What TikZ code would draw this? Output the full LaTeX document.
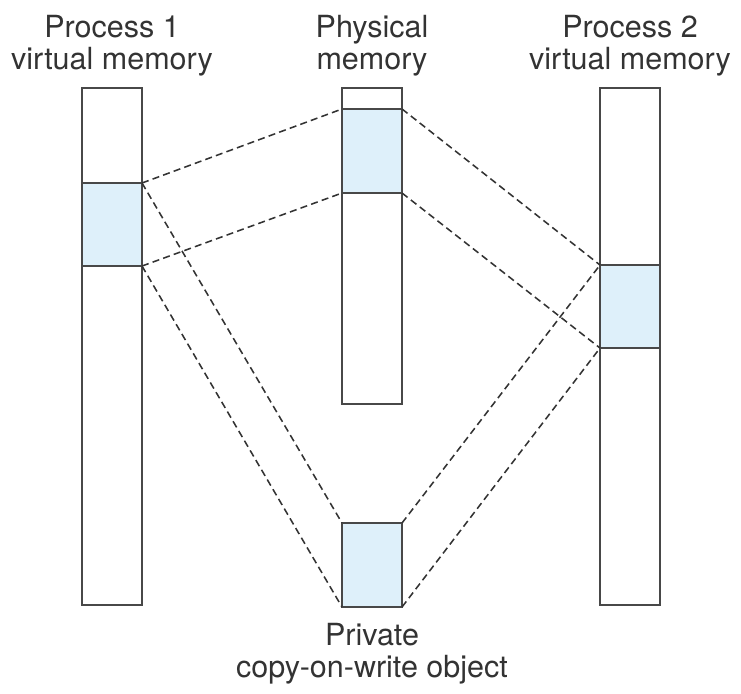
\documentclass[tikz,border=0pt]{standalone}
\usepackage{fontspec}
\setmainfont{TeX Gyre Heros}
\usepackage{xcolor}
\usepackage{tikz}
\usetikzlibrary{positioning,calc}

\definecolor{shade}{RGB}{222,240,250}
\definecolor{edge}{RGB}{72,72,72}

\begin{document}
\begin{tikzpicture}[
    x=0.025cm, y=-0.025cm,
    node distance=0.3cm,
    memcol/.style={rectangle, draw=edge, line width=1.3pt, fill=white, inner sep=0pt, outer sep=0pt, minimum width=1.5cm, anchor=north west},
    region/.style={memcol, fill=shade},
    lbl/.style={align=center, inner sep=0pt, font=\fontsize{21.7}{22.5}\selectfont, text=black!80},
    link/.style={dashed, dash pattern=on 5pt off 3pt, line width=1.1pt, draw=black!80}
]
    \useasboundingbox (0,0) rectangle (741,693);

    % memory columns
    \node [memcol, minimum height=12.925cm] (vm1) at (82,88) {};
    \node [memcol, minimum height=7.9cm] (phys) at (342,88) {};
    \node [memcol, minimum height=12.925cm] (vm2) at (600,88) {};

    % shared pages
    \node [region, minimum height=2.075cm] (pg1) at (82,183) {};
    \node [region, minimum height=2.1cm] (pgp) at (342,109) {};
    \node [region, minimum height=2.075cm] (pg2) at (600,265) {};
    \node [region, minimum height=2.1cm] (cow) at (342,523) {};

    % captions
    \node [lbl, above=of vm1.north] (t1) {Process 1\\virtual memory};
    \node [lbl, above=of phys.north] (tp) {Physical\\memory};
    \node [lbl, above=of vm2.north] (t2) {Process 2\\virtual memory};
    \node [lbl, below=0.4cm of cow.south] (tc) {Private\\copy-on-write object};

    % mappings
    \draw [link] (pg1.north east) -- (pgp.north west);
    \draw [link] (pg1.south east) -- (pgp.south west);
    \draw [link] (pg1.north east) -- (cow.north west);
    \draw [link] (pg1.south east) -- (cow.south west);
    \draw [link] (pgp.north east) -- (pg2.north west);
    \draw [link] (pgp.south east) -- (pg2.south west);
    \draw [link] (cow.north east) -- (pg2.north west);
    \draw [link] (cow.south east) -- (pg2.south west);
\end{tikzpicture}
\end{document}
